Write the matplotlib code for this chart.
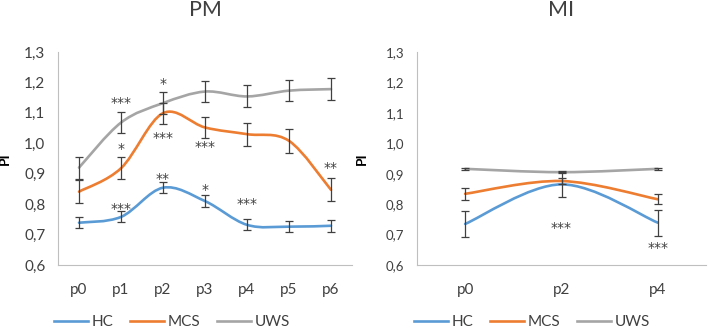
import numpy as np
import matplotlib
matplotlib.use("Agg")
import matplotlib.pyplot as plt
from matplotlib.path import Path
from matplotlib.patches import PathPatch
from matplotlib.lines import Line2D

plt.rcParams['font.family'] = ['Lato', 'DejaVu Sans']

# PM panel
pm_labels = ["p0", "p1", "p2", "p3", "p4", "p5", "p6"]
pm_hc = [0.739, 0.758, 0.854, 0.810, 0.732, 0.726, 0.729]
pm_hc_err = [0.018, 0.018, 0.018, 0.019, 0.018, 0.018, 0.019]
pm_mcs = [0.841, 0.918, 1.099, 1.052, 1.030, 1.008, 0.847]
pm_mcs_err = [0.038, 0.037, 0.035, 0.036, 0.038, 0.039, 0.038]
pm_uws = [0.920, 1.068, 1.132, 1.170, 1.154, 1.173, 1.178]
pm_uws_err = [0.036, 0.034, 0.035, 0.034, 0.036, 0.035, 0.035]
pm_stars = [("***", 1, 1.145), ("*", 2, 1.208), ("*", 1, 0.992), ("***", 2, 1.030),
            ("***", 3, 1.000), ("**", 6, 0.930), ("**", 2, 0.893), ("*", 3, 0.858),
            ("***", 1, 0.797), ("***", 4, 0.812)]

# MI panel
mi_labels = ["p0", "p2", "p4"]
mi_hc = [0.735, 0.865, 0.739]
mi_hc_err = [0.042, 0.042, 0.043]
mi_mcs = [0.834, 0.876, 0.816]
mi_mcs_err = [0.019, 0.010, 0.017]
mi_uws = [0.916, 0.905, 0.916]
mi_uws_err = [0.003, 0.003, 0.003]
mi_stars = [("***", 1, 0.735), ("***", 2, 0.669)]

colors = {"HC": "#5B9BD5", "MCS": "#ED7D31", "UWS": "#A5A5A5"}


def smooth_path(x, y):
    # Excel-style smoothed line: cubic Bezier through the points
    x = np.asarray(x, float)
    y = np.asarray(y, float)
    px = np.concatenate([[x[0]], x, [x[-1]]])
    py = np.concatenate([[y[0]], y, [y[-1]]])
    verts = [(x[0], y[0])]
    codes = [Path.MOVETO]
    for i in range(len(x) - 1):
        c1 = (x[i] + (px[i + 2] - px[i]) / 6, y[i] + (py[i + 2] - py[i]) / 6)
        c2 = (x[i + 1] - (px[i + 3] - px[i + 1]) / 6, y[i + 1] - (py[i + 3] - py[i + 1]) / 6)
        verts += [c1, c2, (x[i + 1], y[i + 1])]
        codes += [Path.CURVE4] * 3
    return Path(verts, codes)


def draw_panel(ax, title, labels, series, stars, tick_fs):
    x = np.arange(len(labels))
    for name, vals, errs in series:
        ax.add_patch(PathPatch(smooth_path(x, vals), fill=False, edgecolor=colors[name],
                               lw=1.9, capstyle='round', zorder=2))
        ax.errorbar(x, vals, yerr=errs, fmt='none', ecolor='#404040', elinewidth=0.9,
                    capsize=3, capthick=0.9, zorder=3)
    for s, xi, yv in stars:
        ax.text(xi, yv - 0.012, s, ha='center', va='center', fontsize=10, color='#404040',
                family='DejaVu Sans')
    ax.set_xlim(-0.5, len(labels) - 0.5)
    ax.set_ylim(0.6, 1.3)
    ax.set_yticks(np.arange(0.6, 1.31, 0.1))
    ax.set_yticklabels([f"{v:.1f}".replace(".", ",") for v in np.arange(0.6, 1.31, 0.1)],
                       fontsize=tick_fs, color='#404040')
    ax.set_xticks(x)
    ax.set_xticklabels(labels, fontsize=11, color='#404040')
    ax.tick_params(length=0, pad=9)
    ax.tick_params(axis='x', pad=13)
    for sp in ["top", "right"]:
        ax.spines[sp].set_visible(False)
    for sp in ["left", "bottom"]:
        ax.spines[sp].set_color('#BFBFBF')
    ax.set_title(title, fontsize=15.5, color='#404040', pad=26)
    ax.set_ylabel("PI", fontsize=10, fontweight='bold', color='#000000')


fig = plt.figure(figsize=(7.08, 3.3), dpi=100)
ax1 = fig.add_axes([58 / 708, 65 / 330, 294 / 708, 213 / 330])
ax2 = fig.add_axes([417 / 708, 65 / 330, 289 / 708, 213 / 330])

draw_panel(ax1, "PM", pm_labels,
           [("HC", pm_hc, pm_hc_err), ("MCS", pm_mcs, pm_mcs_err), ("UWS", pm_uws, pm_uws_err)],
           pm_stars, 11)
draw_panel(ax2, "MI", mi_labels,
           [("HC", mi_hc, mi_hc_err), ("MCS", mi_mcs, mi_mcs_err), ("UWS", mi_uws, mi_uws_err)],
           mi_stars, 9.5)
ax1.yaxis.set_label_coords(-0.16, 0.5)
ax2.yaxis.set_label_coords(-0.17, 0.5)

handles = [Line2D([], [], color=colors[k], lw=1.9) for k in colors]
for cx in (172 / 708, 532 / 708):
    fig.legend(handles, list(colors), loc='center', bbox_to_anchor=(cx, 1 - 322 / 330),
               ncol=3, frameon=False, fontsize=11, handlelength=2.2, handletextpad=0.25,
               columnspacing=1.1, labelcolor='#404040')

fig.savefig("out.png", dpi=100)
